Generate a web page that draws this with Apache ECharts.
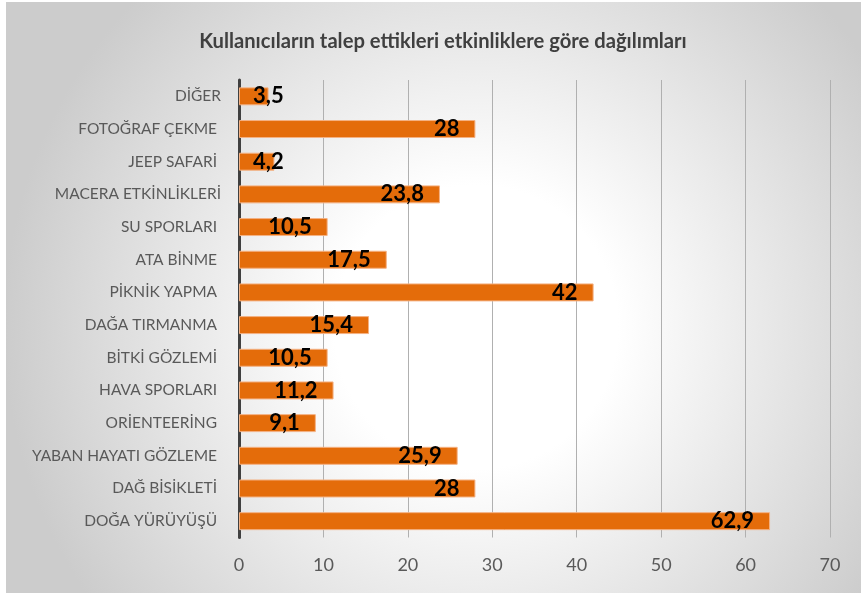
<!DOCTYPE html>
<html><head><meta charset="utf-8">
<script src="https://cdn.jsdelivr.net/npm/echarts@6/dist/echarts.min.js"></script>
<style>html,body{margin:0;padding:0;background:#fff;}#c{position:absolute;left:6px;top:2px;width:855px;height:591px;}</style>
</head><body><div id="c"></div>
<script>
const titleText = 'Kullanıcıların talep ettikleri etkinliklere göre dağılımları';
const categories = ['DİĞER','FOTOĞRAF ÇEKME ','JEEP SAFARİ ','MACERA ETKİNLİKLERİ','SU SPORLARI ','ATA BİNME ','PİKNİK YAPMA ','DAĞA TIRMANMA ','BİTKİ GÖZLEMİ ','HAVA SPORLARI ','ORİENTEERİNG ','YABAN HAYATI GÖZLEME ','DAĞ BİSİKLETİ ','DOĞA YÜRÜYÜŞÜ '];
const values = [3.5,28,4.2,23.8,10.5,17.5,42,15.4,10.5,11.2,9.1,25.9,28,62.9];
const xTicks = [0,10,20,30,40,50,60,70];

const font = 'Lato, "Open Sans", sans-serif';
const chart = echarts.init(document.getElementById('c'));
const data = values.map(v => {
  if (v < 6) return {value: v, label: {position: 'insideLeft', distance: 14}};
  return {value: v};
});
chart.setOption({
  backgroundColor: {type:'radial', x:0.55, y:0.55, r:0.8, colorStops:[{offset:0,color:'#ffffff'},{offset:0.3,color:'#ffffff'},{offset:1,color:'#cccccc'}]},
  title: {text: titleText, left: 432, textAlign:'center', top: 24, textStyle:{fontFamily:font, fontSize:20.2, fontWeight:'bold', color:'#404040'}},
  grid: {left: 233, right: 31, top: 78, bottom: 55.5},
  xAxis: {type:'value', min: xTicks[0], max: xTicks[xTicks.length-1], interval: 10,
    axisLine:{show:false}, axisTick:{show:false},
    splitLine:{show:true, lineStyle:{color:'#b0b0b0', width:1}},
    axisLabel:{fontFamily:font, fontSize:18, color:'#595959', margin:19}},
  yAxis: {type:'category', data: categories, inverse: true,
    axisLine:{show:true, lineStyle:{color:'#404040', width:3}}, axisTick:{show:false},
    axisLabel:{fontFamily:font, fontSize:15.5, color:'#595959', margin:18}},
  series: [{type:'bar', data: data, barCategoryGap:'45%',
    itemStyle:{color:'#E46C0A', borderColor:'#F4B183', borderWidth:1},
    label:{show:true, position:'insideRight', distance:16, fontFamily:font, fontSize:22, fontWeight:'bold', color:'#000',
      formatter: p => String(p.value).replace('.', ',')}}]
});
</script></body></html>
